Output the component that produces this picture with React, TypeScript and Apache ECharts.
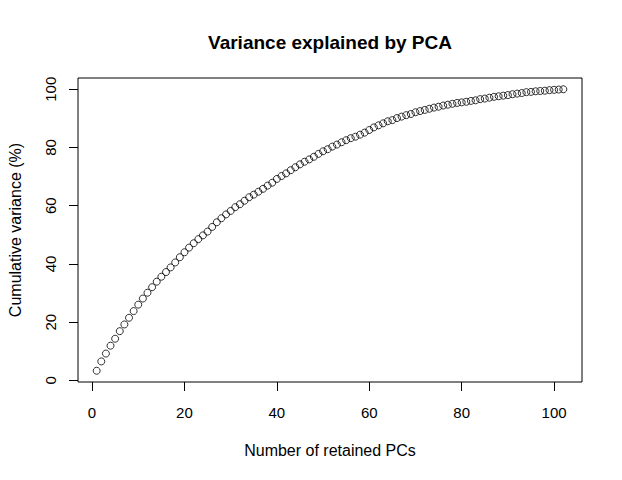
import React, { useEffect, useRef } from "react";
import * as echarts from "echarts";

const cumulativeVariance: number[] = [
  3.3, 6.5, 9.2, 11.9, 14.3, 16.9, 19.2, 21.5, 23.8, 26.0,
  28.1, 30.1, 32.0, 33.9, 35.6, 37.2, 38.8, 40.5, 42.3, 44.0,
  45.6, 47.1, 48.5, 49.8, 51.1, 52.7, 54.3, 55.7, 57.0, 58.2,
  59.5, 60.5, 61.7, 62.9, 63.8, 64.8, 65.8, 66.9, 67.9, 69.2,
  70.2, 71.1, 72.2, 73.2, 74.2, 75.1, 75.9, 76.8, 77.8, 78.7,
  79.4, 80.3, 81.0, 81.8, 82.5, 83.2, 83.7, 84.4, 85.1, 86.0,
  86.9, 87.6, 88.3, 89.0, 89.4, 90.1, 90.6, 91.1, 91.5, 92.1,
  92.5, 92.9, 93.3, 93.7, 94.0, 94.4, 94.7, 95.0, 95.3, 95.5,
  95.7, 96.0, 96.2, 96.6, 96.8, 97.1, 97.4, 97.6, 97.8, 98.0,
  98.3, 98.5, 98.7, 99.0, 99.1, 99.3, 99.4, 99.5, 99.7, 99.8,
  99.9, 100.0,
];

const xTicks: number[] = [0, 20, 40, 60, 80, 100];
const yTicks: number[] = [0, 20, 40, 60, 80, 100];

const titleText = "Variance explained by PCA";
const xTitle = "Number of retained PCs";
const yTitle = "Cumulative variance (%)";

const FONT = "'Liberation Sans', Arial, Helvetica, sans-serif";

export default function App() {
  const ref = useRef<HTMLDivElement>(null);

  useEffect(() => {
    if (!ref.current) return;
    const chart = echarts.init(ref.current, null, { renderer: "svg" });
    const n = cumulativeVariance.length;
    const xr = n - 1;
    const xMin = 1 - 0.04 * xr;
    const xMax = n + 0.04 * xr;
    const yLo = Math.min(...cumulativeVariance);
    const yHi = Math.max(...cumulativeVariance);
    const yr = yHi - yLo;
    const yMin = yLo - 0.04 * yr;
    const yMax = yHi + 0.04 * yr;
    const points = cumulativeVariance.map((v, i) => [i + 1, v]);

    const gridLeft = 78;
    const gridRight = 40;
    const gridTop = 78;
    const gridBottom = 98;
    const plotCx = gridLeft + (622 - gridLeft - gridRight) / 2;
    const plotCy = gridTop + (480 - gridTop - gridBottom) / 2;

    chart.setOption({
      animation: false,
      backgroundColor: "#ffffff",
      textStyle: { fontFamily: FONT },
      graphic: [
        {
          type: "text",
          x: plotCx,
          y: 42,
          style: {
            text: titleText,
            fontFamily: FONT,
            fontWeight: "bold",
            fontSize: 19,
            fill: "#000",
            align: "center",
            verticalAlign: "middle",
          },
        },
        {
          type: "text",
          x: plotCx,
          y: 450,
          style: {
            text: xTitle,
            fontFamily: FONT,
            fontSize: 16,
            fill: "#000",
            align: "center",
            verticalAlign: "middle",
          },
        },
        {
          type: "text",
          x: 15,
          y: plotCy,
          rotation: Math.PI / 2,
          style: {
            text: yTitle,
            fontFamily: FONT,
            fontSize: 16,
            fill: "#000",
            align: "center",
            verticalAlign: "middle",
          },
        },
      ],
      grid: {
        left: gridLeft,
        right: gridRight,
        top: gridTop,
        bottom: gridBottom,
        show: true,
        borderColor: "#000",
        borderWidth: 1,
        backgroundColor: "transparent",
      },
      xAxis: {
        type: "value",
        min: xMin,
        max: xMax,
        axisLine: { show: false, onZero: false },
        axisTick: {
          show: true,
          customValues: xTicks,
          length: 9,
          inside: false,
          lineStyle: { color: "#000", width: 1 },
        },
        axisLabel: {
          customValues: xTicks,
          margin: 23,
          fontFamily: FONT,
          fontSize: 15,
          color: "#000",
        },
        splitLine: { show: false },
      },
      yAxis: {
        type: "value",
        min: yMin,
        max: yMax,
        axisLine: { show: false, onZero: false },
        axisTick: {
          show: true,
          customValues: yTicks,
          length: 9,
          inside: false,
          lineStyle: { color: "#000", width: 1 },
        },
        axisLabel: {
          customValues: yTicks,
          rotate: 90,
          margin: 20,
          fontFamily: FONT,
          fontSize: 15,
          color: "#000",
        },
        splitLine: { show: false },
      },
      series: [
        {
          type: "scatter",
          data: points,
          symbol: "circle",
          symbolSize: 7,
          itemStyle: {
            color: "rgba(0,0,0,0)",
            borderColor: "#000",
            borderWidth: 1,
          },
          emphasis: { disabled: true },
        },
      ],
    });

    return () => chart.dispose();
  }, []);

  return (
    <div
      ref={ref}
      style={{ position: "fixed", left: 0, top: 0, width: 622, height: 480, background: "#fff" }}
    />
  );
}
